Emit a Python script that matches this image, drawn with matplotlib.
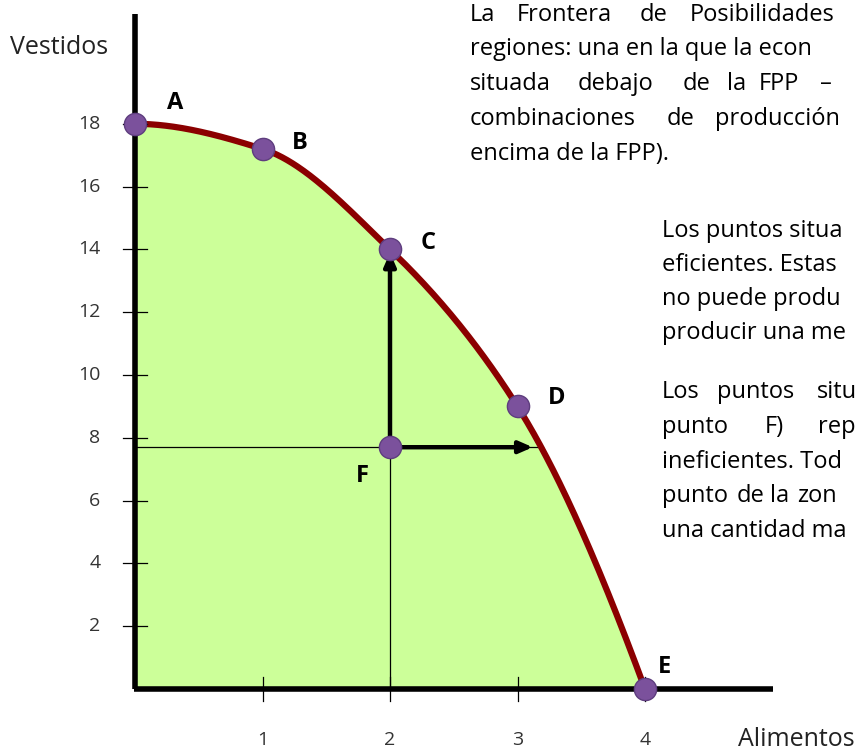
import numpy as np
import matplotlib
matplotlib.use("Agg")
import matplotlib.pyplot as plt

# Frontier points (Alimentos, Vestidos)
labels = ["A", "B", "C", "D", "E"]
alimentos = [0, 1, 2, 3, 4]
vestidos = [18, 17.2, 14, 9, 0]

# inefficient point F
f_x, f_y = 2, 7.7
arrow_end_x = 3.12

x_ticks = [1, 2, 3, 4]
y_ticks = [2, 4, 6, 8, 10, 12, 14, 16, 18]

FONT = "Open Sans"
W, H = 861, 755


def pchip(x, y, xs):
    # monotone cubic (Fritsch-Carlson) through the frontier points
    x = np.asarray(x, float)
    y = np.asarray(y, float)
    h = np.diff(x)
    d = np.diff(y) / h
    m = np.zeros_like(y)
    for k in range(1, len(x) - 1):
        if d[k - 1] * d[k] > 0:
            w1 = 2 * h[k] + h[k - 1]
            w2 = h[k] + 2 * h[k - 1]
            m[k] = (w1 + w2) / (w1 / d[k - 1] + w2 / d[k])
    m0 = ((2 * h[0] + h[1]) * d[0] - h[0] * d[1]) / (h[0] + h[1])
    m[0] = m0 if m0 * d[0] > 0 else 0
    mn = ((2 * h[-1] + h[-2]) * d[-1] - h[-1] * d[-2]) / (h[-1] + h[-2])
    m[-1] = mn if mn * d[-1] > 0 else 0
    idx = np.clip(np.searchsorted(x, xs) - 1, 0, len(x) - 2)
    t = (xs - x[idx]) / h[idx]
    h00 = 2 * t**3 - 3 * t**2 + 1
    h10 = t**3 - 2 * t**2 + t
    h01 = -2 * t**3 + 3 * t**2
    h11 = t**3 - t**2
    return (h00 * y[idx] + h10 * h[idx] * m[idx]
            + h01 * y[idx + 1] + h11 * h[idx] * m[idx + 1])


fig = plt.figure(figsize=(W / 100, H / 100), dpi=100)
ax = fig.add_axes([0, 0, 1, 1])
ax.set_xlim(-135 / 127.5, (W - 135) / 127.5)
ax.set_ylim(-(H - 689) / 31.4, 689 / 31.4)
ax.axis("off")

xs = np.linspace(0, 4, 400)
ys = pchip(alimentos, vestidos, xs)
ax.fill_between(xs, 0, ys, color="#ccff99", zorder=1)

# thin guide lines through F
ax.plot([0, arrow_end_x + 0.08], [f_y, f_y], color="black", lw=0.9, zorder=2)
ax.plot([f_x, f_x], [0, vestidos[2]], color="black", lw=0.9, zorder=2)

ax.plot(xs, ys, color="#8b0000", lw=4.5, zorder=3, solid_capstyle="butt")

# axes
ax.plot([0, 0], [0, 21.5], color="black", lw=4, zorder=4, solid_capstyle="butt")
ax.plot([-0.01, 5.0], [0, 0], color="black", lw=4, zorder=4, solid_capstyle="butt")

for yt in y_ticks:
    ax.plot([-0.094, 0.094], [yt, yt], color="black", lw=0.9, zorder=4)
    ax.text(-0.27, yt, str(yt), ha="right", va="center", fontsize=14,
            family=FONT, color="#333333")
for xt in x_ticks:
    ax.plot([xt, xt], [-0.38, 0.38], color="black", lw=0.9, zorder=4)
    ax.text(xt, -1.62, str(xt), ha="center", va="center", fontsize=14,
            family=FONT, color="#333333")

fig.text(10 / W, 1 - 48 / H, "Vestidos", ha="left", va="center",
         fontsize=18, family=FONT, color="#222222")
fig.text(738 / W, 1 - 740 / H, "Alimentos", ha="left", va="center",
         fontsize=18, family=FONT, color="#222222")

# arrows from F
arrow_kw = dict(arrowstyle="-|>,head_length=0.8,head_width=0.35", lw=3.2,
                color="black", shrinkA=0, shrinkB=0)
ax.annotate("", xy=(f_x, vestidos[2] - 0.1), xytext=(f_x, f_y),
            arrowprops=arrow_kw, zorder=5)
ax.annotate("", xy=(arrow_end_x, f_y), xytext=(f_x, f_y),
            arrowprops=arrow_kw, zorder=5)

# points
ax.plot(alimentos, vestidos, "o", ms=16, color="#7b519c", mec="#5e3d7e",
        mew=1, zorder=6, clip_on=False)
ax.plot([f_x], [f_y], "o", ms=16, color="#7b519c", mec="#5e3d7e",
        mew=1, zorder=6)

label_pos = {"A": (175, 103), "B": (300, 143), "C": (428, 243),
             "D": (557, 398), "E": (665, 667), "F": (362, 476)}
for lab, (px, py) in label_pos.items():
    fig.text(px / W, 1 - py / H, lab, ha="center", va="center",
             fontsize=17, fontweight="bold", family=FONT, color="black")


# slide text, as much of it as the reference shows
def line(words, y):
    for px, w in words:
        fig.text(px / W, 1 - y / H, w, ha="left", va="baseline",
                 fontsize=17, family=FONT, color="black")


line([(470, "La"), (517, "Frontera"), (640, "de"), (690, "Posibilidades")], 21)
line([(470, "regiones: una en la que la econ")], 55)
line([(470, "situada"), (578, "debajo"), (683, "de"), (727, "la"),
      (759, "FPP"), (820, "–")], 90)
line([(470, "combinaciones"), (667, "de"), (715, "producción")], 125)
line([(470, "encima de la FPP).")], 160)

line([(662, "Los puntos situa")], 237)
line([(662, "eficientes. Estas")], 271)
line([(662, "no puede produ")], 305)
line([(662, "producir una me")], 339)
line([(662, "Los"), (717, "puntos"), (817, "situ")], 398)
line([(662, "punto"), (765, "F)"), (818, "rep")], 433)
line([(662, "ineficientes. Tod")], 468)
line([(662, "punto"), (737, "de"), (770, "la"), (797, "zon")], 502)
line([(662, "una cantidad ma")], 537)

fig.savefig("out.png", dpi=100)
